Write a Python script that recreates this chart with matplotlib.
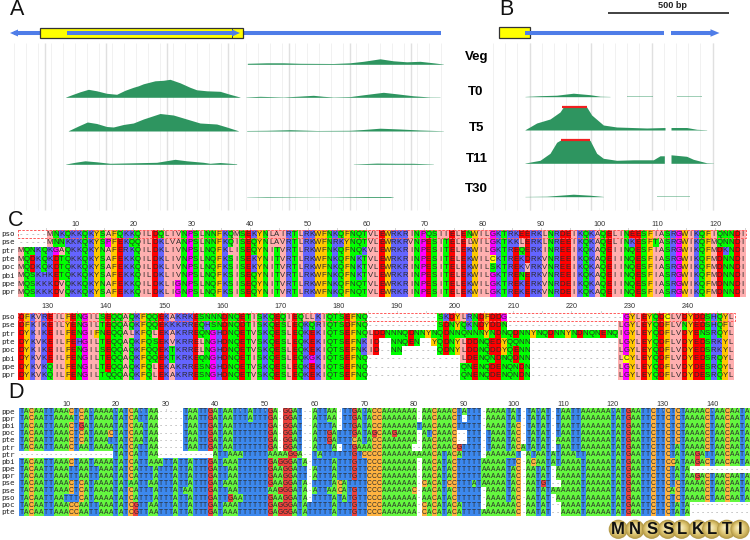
import numpy as np
import matplotlib
matplotlib.use("Agg")
import matplotlib.pyplot as plt
from matplotlib.colors import to_rgb
from matplotlib.patches import Rectangle, Circle, FancyArrow

W, H = 750, 540
SANS = "Liberation Sans"
MONO = "DejaVu Sans Mono"

# ---------- data ----------
track_names = ["Veg", "T0", "T5", "T11", "T30"]

# Panel A coverage: track position, depth
a_cov = {
    "Veg": [([42, 118], [0.3, 0.3]),
            ([742, 800, 850, 900, 1000, 1050, 1090, 1140, 1180, 1220, 1260, 1300, 1330],
             [1, 1.5, 1.5, 1, 0.8, 1.5, 3, 5.5, 3.5, 2.5, 3, 1.5, 0])],
    "T0": [([55, 120], [0.2, 0.2]),
           ([197, 215, 240, 265, 290, 320, 350, 375, 400, 415, 430, 465, 490, 510, 540, 570, 590, 620, 660, 690, 720],
            [0, 2.5, 5.5, 8, 6.5, 4, 3, 7, 10, 11.5, 13.5, 16.5, 17, 18, 14.5, 10, 7.5, 6.5, 6, 3, 0]),
           ([738, 780, 850, 900, 940, 970, 1000, 1050, 1090, 1150, 1190, 1240, 1290, 1320],
            [0.3, 1, 0.3, 1.2, 2, 1, 0.3, 0.7, 2.5, 5, 3.5, 1.5, 0.3, 0])],
    "T5": [([42, 128], [0.3, 0.3]),
           ([205, 235, 262, 290, 320, 340, 370, 400, 430, 480, 520, 560, 600, 650, 680, 715],
            [0, 5, 9, 7.5, 4.5, 4, 6.5, 8, 12, 17.5, 16, 12, 8, 7, 4, 0]),
           ([740, 800, 870, 950, 1050, 1090, 1140, 1200, 1260, 1330],
            [0.5, 0.7, 1.3, 0.5, 0.7, 1.5, 2.8, 2, 1, 0.2])],
    "T11": [([197, 225, 255, 290, 330, 400, 470, 525, 560, 610, 630, 660, 710],
             [0, 2, 3.5, 2.5, 1, 1.5, 2, 5, 3.5, 2, 1, 1.8, 0.5]),
            ([720, 810], [0.3, 0.3]), ([840, 975], [0.2, 0.2]),
            ([1060, 1130, 1190, 1240, 1300], [0, 1.2, 1, 1, 0])],
    "T30": [([42, 105], [0.4, 0.4]), ([410, 670], [0.3, 0.3]),
            ([740, 800, 960, 1000, 1100, 1170, 1180], [0.2, 0.6, 0.2, 0.3, 0.8, 0.8, 0])],
}
# Panel B coverage
b_cov = {
    "Veg": [],
    "T0": [([195, 240, 290, 340, 390, 420, 450], [0, 1, 1.5, 3.5, 2, 0.5, 0.1]),
           ([500, 580], [0.4, 0.4]), ([650, 725], [0.2, 0.2])],
    "T5": [([195, 230, 270, 300, 310, 380, 395, 430, 470, 560, 615],
            [0, 7, 11, 18, 23, 23, 15, 5, 3, 2, 2.5]),
           ([633, 680, 710, 740], [2.5, 2.5, 0.7, 0])],
    "T11": [([195, 240, 270, 290, 300, 390, 410, 430, 470, 520, 580, 600, 613],
             [0, 3, 10, 21, 23, 23, 10, 5, 3, 3.5, 3.5, 7.5, 7.5]),
            ([633, 680, 700, 740, 760], [8.5, 7, 4, 0.5, 0])],
    "T30": [([195, 260, 340, 390, 430], [0, 0.5, 2.5, 1.5, 0]), ([590, 690], [0.3, 0.3])],
}
red_spans = {"T5": (305, 380), "T11": (302, 390)}

c_names = ["pso", "pse", "ptr", "pte", "poc", "pbi", "ppe", "ppr"]
c1_rows = [
    "-----MNKQKKQKYSAFQKKQILDQLIVNPSLNNFKQMSEKYNLAIRTLRKWFNKQFNQTVLEWRKRINPQSIIELENWILGKTRKEERKLNRDEIKQKAQELINEESFIASRGWIKQFIQNNDI",
    "-----MNNKKKQKYSPFEKQQILDKLVANPSLNNFKQISEQYNLAVRTLRKWFNRKYNQTVLEWRKRVNPESITELELWILGKTKKLERKLNREEIKQKAQELINKESFTASRGWIKQFMQNNDI",
    "MQNKQKGAQKKQKYNAFERKQILDKLIVNPSLNQFKLISEQYNITVRTLRKWFNKQFNQKVLEWRKRINPESITELEKWILGKTREQERKINREEIKQKAQEIINQESFIASRGWIKQFMDKNDI",
    "MQDKQKDTQKKQKYSAFEKKQILDKLIVNPSLNQFKSISEKYNITVRTLRKWFNKQFNKTVLEWRKRINPESITELEKWILCKTREKDRKVNREEIKQKAQEIINQESFIASRGWIKQFMDNNDI",
    "MQDKQKDTQKKQKYSAFEKKQILDKLIVNPSLNQFKSISEKYNITVRTLRKWFNKQFNKTVLEWRKRINPESITELEKWILSKTREKVRKVNREEIKQKAQEIINQESFIASRGWIKQFMDNNDI",
    "MQSKHKETQKKQKYSAFEKKQILDKLIVNPSLNQFKSISEQYNITVRTLRKWFNKQFNKTVLEWRKRINPESITELEKWILGKTRENERKVNREEIKQKAQEIINQESFIASRGWIKQFMDNNDI",
    "MQSKKKDVQKKQKYNAFEKKQILDKLIGNPSLNQFKSISEQYNITVRTLRKWFNKQFNQTVLEWRKRINPESITELEKWILGKTREKERKVNRDEIKQKAQEIINQESFIASRGWIKQFMDNNDI",
    "MQSKKKDVQKKQKYSAFEKKQILDKLIGNPSLNQFKSISEQYNITVRTLRKWFNKQFNQTVLEWRKRINPESITELEKWILGKTREKERKVNRDEIKQKAQEIINQESFIASRGWIKQFMDNNDI",
]
c2_rows = [
    "DFKVREILFENGILSEQQAQKFQQEKAKRKESNNNDNQETISKQEQIEQLLKIQTSEFNQ------------SKDYLRNDFDDG--------------------GYLEYQDCLVDYDDSHQYL",
    "DFKIKEILYENGILTEQQAQKFQQEKKKRREQHSNDNQDTISKQESLEQKQRIQTSDFNQ------------SDNYQKNDYDDN-------------------LGYLEYQDFLVNYEDSHQFL",
    "DYKIKEILFENGIFNEQQALKFQLEKAKRREQNGHDNQETVSKQESLEQKEKIQTSEFNQLDDNNNQDNNYNQDNNQNNNYNDNQDNNYNQDNNYNDNQNENQIGYLEYQDFLVDYENSRQYL",
    "DYKVKEILFEHGILTEQQAQKFQSEKVKRRELNGHDNQETVSKQESLEQKEKIQTSEFNKID--NNQEN--YQDNYLDDNQEDYQQNN---------------LGYLEYQDFLVDYEDSRKYL",
    "DYKIKEILFENGILSEQQAQKFQQEKTKRRELNGHDNQETVSKQESLEQKEKIQTSEFNKID--NN------QDNYLDDNQDDYQENN---------------LGYLEYQDFLVDYEDSRKYL",
    "DYKVKEILFENGILTEQQAQKFQQEKTKRKEQNGHDNQETISKQESLEQKGKIQTSEFNQ----------------LDENQNDNQDNN---------------LCYLEYQDFLVDYEDSRQYL",
    "DYKVKQILFENGILTEQQAQKFQLEKAKRRESNGHDNQETVSKQESLEQKEKIQTSEFNQ----------------QNENQDENQNDN---------------LGYLEYQDFLVDYDESRQYL",
    "DYKVKQILFENGILTQQQAQKFQLEKAKRRESNGHDNQETVSKQESLEQKEKIQTSEFNQ----------------QNENQDENQNDN---------------LGYLEYQDFLVDYDESRQYL",
]
d_names = ["ppe", "ppr", "pbi", "poc", "pte", "ptr", "ptr", "pbi", "ppe", "ppr", "pse", "pse", "pso", "poc", "pte"]
d_left = [
    "TACAATTAAACTCATAAAATATCATTAA-----TAATTGATAATTTATTTGA-GGAT--ATTAA-TTGATACC",
    "TACAATTAAAATCATAAAATATCATTAA-----TAATTGATAATTTATTTGA-GGAT--ATTAA-TTGATACC",
    "TACAATTAAACTGATAAAATATCAATAA-----TAATTGATAATTTTTTTGA-GGAT--ATTTA-TTGATACC",
    "TACAATTAAACTCATAAACTATCAATAA-----TAATTGATAATTTTTTTGA-GGAT--ATTGATTTGATAGC",
    "TACAATTAAACTCATAAATTATCAATAA-----TAATTGATAATTTTTTTGA-GGAT--ATTGATTTCATACC",
    "TACAATTAAACTAATAAAATATCATTAA-----TAATTGATAATTTTTTTGA-GGAT--ATTTA-TTGAAACC",
    "-------------------TATCATTAA-----------ATTAAATTTTTAAAAGGA--TATTTTTTGTCCCC",
    "TACAATTAAACTAATAAAATATCATTAAATTATTATTTGATAAATTTTTTGAGGGATA-TTTTATTTGTTCCC",
    "TACAATTAAATTAATTAAATATCATTTATTTATTATTTGATTAATTTTTTGAAGGATT-ATTTATTTGTTCCC",
    "TACAATTAAATTAATTAAATATCATTTATTTATTATTTGATTAATTTTTTGAAGGATT-ATTTATTTGTTCCC",
    "TACAATTAAACTCATAAAATATAATTAATTTATTATTTGATAAATTTTTTGAAGGATA-TTTTACATTTTCCC",
    "TACAATTAAACTCATAAAATATCATTTATTTATAATTTGATTAATTTTTTAAGGGATA-ATTAACATGTTCCC",
    "TACAATTAATTTCATAAAATATCATTTATTTATTATTTGATTGAATTTTTGAAGGATA-TTTTATATGTTCCC",
    "TACAATTAAACCAATTAAATATCGTTAATTTATTATTTGATAAATTTTTTGAGGGATATTTTTATTTGTTCCC",
    "TACAATTAAACCAATTAAATATCGTTAATTTATTATTTGATAAATTTTTTGAGGGATATTTTTATTTGTTCCC",
]
d_right = [
    "AAAAAAA-AACAAACTATTT-AAAATAT-TATAT-TAATTAAAAAATATGAATTCTTCTCTAAAACTAACAATA",
    "AAAAAAA-AACAAACT-TTT-AAAATAT-TATAT-TAATTAAAAAATATGAATTCTTCTCTAAAACTAACAATA",
    "AAAAAAATAACAAACTTTTT-AAAATAC-TATAT-TAATTAAAAAATATGAATTCTTCTCTAAAACTAACAATA",
    "AAGAAAA-ATCAAAC--TTT-TAAATAC-TATAT-TAATTAAAAAATATGAATTCTTCTCTAAAACTAACAATA",
    "AAAAAAA-AACAAAC--TTT-TAAATAC-TATAT-AAATTAAAAAATATGAATTCTTCTCTAAAACTAACAATA",
    "AAAAAA--AACAAACGTTTT-TAAATACATATAT-TAATTAAAAAATATGAATTCTTCTATAAAACTAACAATA",
    "AAAAAAAAAACATACATTTT-AAAAAAT-ATAATATAAATTAAAAATATGAATTCTTCTATAAGATTAACAATA",
    "AAAAAAA-AACATACTTTTTAAAAATTC-ACAATATAAAATAAAAATATGAATTCTTCCATAAGACTAACAATA",
    "AAAAAAA-AACATACTTTTTAAAAATAC-AATAT-AAAAATAAAAATATGAATTCTTCTATA------------",
    "AAAAAAA-AACATACTTTTTAAAAATAC-AATAT-AAAAATAAAAATATGAATTCTTCTATAAGACTAACAATA",
    "AAAAAAA-CACATCCTTTATAAAAATAC-AATGT--AAAATAAAAATATGAATTCTTCTCTAAAACTAACAATA",
    "AAAAAAC-AACATACTTTTT-AAAATAC-AATATAAAAAATAAAAATATGAATTCTTCACTAAAACTAACAATA",
    "AAAAAAA-AACATACTTTTT-AAAATAC-AATAT-AAAAATAAAAATATGAATTCTTCTCTAAAACTAACAATA",
    "AAAAAAA-CACATACATTTT-AAAAAAC-AATAT--AAAATAAAAATATGAATTCTTCTATA------------",
    "AAAAAAA-CACATACATTTTAAAAAAAC-AATAT--AAAATAAAAATATGAATTCTTCTATA------------",
]
d_rows = [a + b for a, b in zip(d_left, d_right)]
logo_letters = list("MNSSLKLTI")

# ---------- styles ----------
ZAPPO = {}
for group, col in [("ILVAM", "#ffafaf"), ("FWY", "#ffc800"), ("KRH", "#6464ff"),
                   ("DE", "#ff0000"), ("NQST", "#00ff00"), ("GP", "#ff00ff"), ("C", "#ffff00")]:
    for ch in group:
        ZAPPO[ch] = col
NUC = {"A": "#64f73f", "C": "#ffb340", "G": "#eb413c", "T": "#3c88ee"}
BLUE = "#4f7de8"
GREEN = "#2e9560"

fig = plt.figure(figsize=(W / 100, H / 100), dpi=100, facecolor="white")


def axes_px(x0, y0, x1, y1, **kw):
    ax = fig.add_axes([x0 / W, 1 - y1 / H, (x1 - x0) / W, (y1 - y0) / H], **kw)
    ax.set_axis_off()
    return ax


# ---------- tracks ----------
baselines_a = [64.3, 97.3, 131, 164.3, 197.3]
baselines_b = [64.3, 96.7, 130, 163.3, 196.7]


def draw_tracks(ax, cov, bases, majors, minors, ymin=43, ymax=210):
    ax.vlines(minors, ymin, ymax, color="#f1f1f1", lw=0.7, zorder=1)
    ax.vlines(majors, ymin, ymax, color="#e0e0e0", lw=1.0, zorder=1)
    for name, base in zip(track_names, bases):
        for xs, hs in cov[name]:
            xs = np.array(xs, float)
            hs = np.array(hs, float)
            small = hs.max() < 0.5
            ax.fill_between(xs, base, base - np.maximum(hs, 0.25), color=GREEN, lw=0,
                            alpha=0.45 if small else 1, zorder=3)


axA = axes_px(0, 40, 470, 212)
axA.set_xlim(0, 1410)
axA.set_ylim(212, 40)
draw_tracks(axA, a_cov, baselines_a, np.arange(134, 1340, 183), np.arange(42, 1340, 36.6))

axB = axes_px(460, 40, 750, 212)
axB.set_xlim(0, 870)
axB.set_ylim(212, 40)
draw_tracks(axB, b_cov, baselines_b, np.arange(209, 760, 183), np.arange(99, 762, 36.6))
for name, base in zip(track_names, baselines_b):
    if name in red_spans:
        axB.hlines(base - 23.3, *red_spans[name], color="#f02020", lw=1.6, zorder=4)

# ---------- overlay in figure units ----------
ov = axes_px(0, 0, W, H, zorder=5)
ov.set_xlim(0, W)
ov.set_ylim(H, 0)
ov.patch.set_alpha(0)

# gene models
ov.add_patch(Rectangle((40, 27.5), 203, 10.2, fc="#ffff00", ec="#333333", lw=0.9, zorder=2))
ov.plot([231.7, 231.7], [27.5, 37.7], color="#333333", lw=0.7, zorder=3)
ov.plot([14, 40], [33, 33], color=BLUE, lw=2.9, solid_capstyle="butt", zorder=1)
ov.plot([243, 441], [33, 33], color=BLUE, lw=2.9, solid_capstyle="butt", zorder=1)
ov.add_patch(FancyArrow(18, 33, -8, 0, width=0.1, head_width=7, head_length=8,
                        length_includes_head=True, color=BLUE, lw=0, zorder=4))
ov.plot([66.5, 234], [33, 33], color=BLUE, lw=2.9, solid_capstyle="butt", zorder=3)
ov.add_patch(FancyArrow(231, 33, 9, 0, width=0.1, head_width=7, head_length=8,
                        length_includes_head=True, color=BLUE, lw=0, zorder=4))

ov.add_patch(Rectangle((498.7, 27.3), 31, 11.2, fc="#ffff00", ec="#333333", lw=0.9, zorder=2))
ov.plot([525, 664], [33, 33], color=BLUE, lw=2.9, solid_capstyle="butt", zorder=3)
ov.plot([670.7, 712], [33, 33], color=BLUE, lw=2.9, solid_capstyle="butt", zorder=3)
ov.add_patch(FancyArrow(708, 33, 11.5, 0, width=0.1, head_width=7.5, head_length=9,
                        length_includes_head=True, color=BLUE, lw=0, zorder=4))
ov.plot([608.3, 728.7], [12.7, 12.7], color="#333333", lw=1.3, solid_capstyle="butt")
ov.text(672, 5.8, "500 bp", ha="center", va="center", fontsize=6.6, family=SANS,
        fontweight="bold", color="#222222")

for name, xc, yc in zip(track_names, [476.7, 476, 476.5, 476.5, 476.5],
                        [57, 91.7, 127.7, 159.5, 188.5]):
    ov.text(xc, yc, name, ha="center", va="center", fontsize=9.5, family=SANS, fontweight="bold")

for lab, xc, yc in [("A", 17, 9.5), ("B", 506, 9.5), ("C", 16, 220), ("D", 16, 393)]:
    ov.text(xc, yc, lab, ha="center", va="center", fontsize=15.5, family=SANS, color="#111111")


# ---------- alignments ----------
def block(rows, names, left, top, cw, rh, pal, fs, first, num_y, num_off, label_fs, every=10):
    n = max(len(r) for r in rows)
    nr = len(rows)
    img = np.ones((nr, n, 3))
    for i, r in enumerate(rows):
        for j, ch in enumerate(r):
            if ch in pal:
                img[i, j] = to_rgb(pal[ch])
    ax = axes_px(left, top, left + cw * n, top + rh * nr, zorder=3)
    ax.imshow(img, extent=(0, n, nr, 0), aspect="auto", interpolation="nearest")
    ax.set_xlim(0, n)
    ax.set_ylim(nr, 0)
    for i, r in enumerate(rows):
        for j, ch in enumerate(r):
            ax.text(j + 0.5, i + 0.52, ch, ha="center", va="center", fontsize=fs, family=SANS,
                    color="#9a9a9a" if ch == "-" else "#2a2a2a", clip_on=False)
    for i, nm in enumerate(names):
        ov.text(1, top + rh * (i + 0.5), nm, ha="left", va="center", fontsize=label_fs,
                family=MONO, color="#222222")
    for pos in range(first, first + n):
        xc = left + cw * (pos - first + 0.5) + num_off
        if pos % 5 == 0:
            ov.plot([xc, xc], [num_y + 3.5, num_y + 5.0], color="#bbbbbb", lw=0.5)
        if pos % every == 0:
            ov.text(xc, num_y, str(pos), ha="center", va="center", fontsize=5.2, family=SANS,
                    color="#333333")


block(c1_rows, c_names, 18, 230, 5.82, 8.33, ZAPPO, 5.6, 1, 224, 2, 5.4)
block(c2_rows, c_names, 18, 313, 5.82, 8.33, ZAPPO, 5.6, 126, 307, 3.5, 5.4)
block(d_rows, d_names, 19, 408, 4.97, 7.19, NUC, 4.8, 1, 405, 0, 5.4)

# selection boxes on the first row
for x0, x1, y0 in [(18, 746, 230), (18, 735, 313)]:
    ov.add_patch(Rectangle((x0, y0), x1 - x0, 8.3, fc="none", ec="#ff5a5a", lw=0.7,
                           ls=(0, (2.5, 1.5)), zorder=8))

# ---------- protein logo ----------
logo_x = [618.3, 635, 651.7, 667.7, 681.7, 698.3, 711.7, 726.7, 740]
logo_y = 529.3
ov2 = axes_px(0, 0, W, H, zorder=9)
ov2.set_xlim(0, W)
ov2.set_ylim(H, 0)
for xc, letter in zip(logo_x, logo_letters):
    for frac, col in zip(np.linspace(1, 0.1, 10),
                         ["#b39a4a", "#c2a854", "#cfb560", "#d8c06e", "#e0ca7c",
                          "#e6d38b", "#ecdb9a", "#f0e2a9", "#f4e8b8", "#f7eec6"]):
        ov2.add_patch(Circle((xc - 1.5 * (1 - frac), logo_y - 2 * (1 - frac)), 9.6 * frac,
                             fc=col, ec="none", zorder=2))
for xc, letter in zip(logo_x, logo_letters):
    ov2.text(xc, logo_y, letter, ha="center", va="center", fontsize=12, family=SANS,
             fontweight="bold", color="#111111", zorder=3)

fig.savefig("out.png", dpi=100, facecolor="white")
